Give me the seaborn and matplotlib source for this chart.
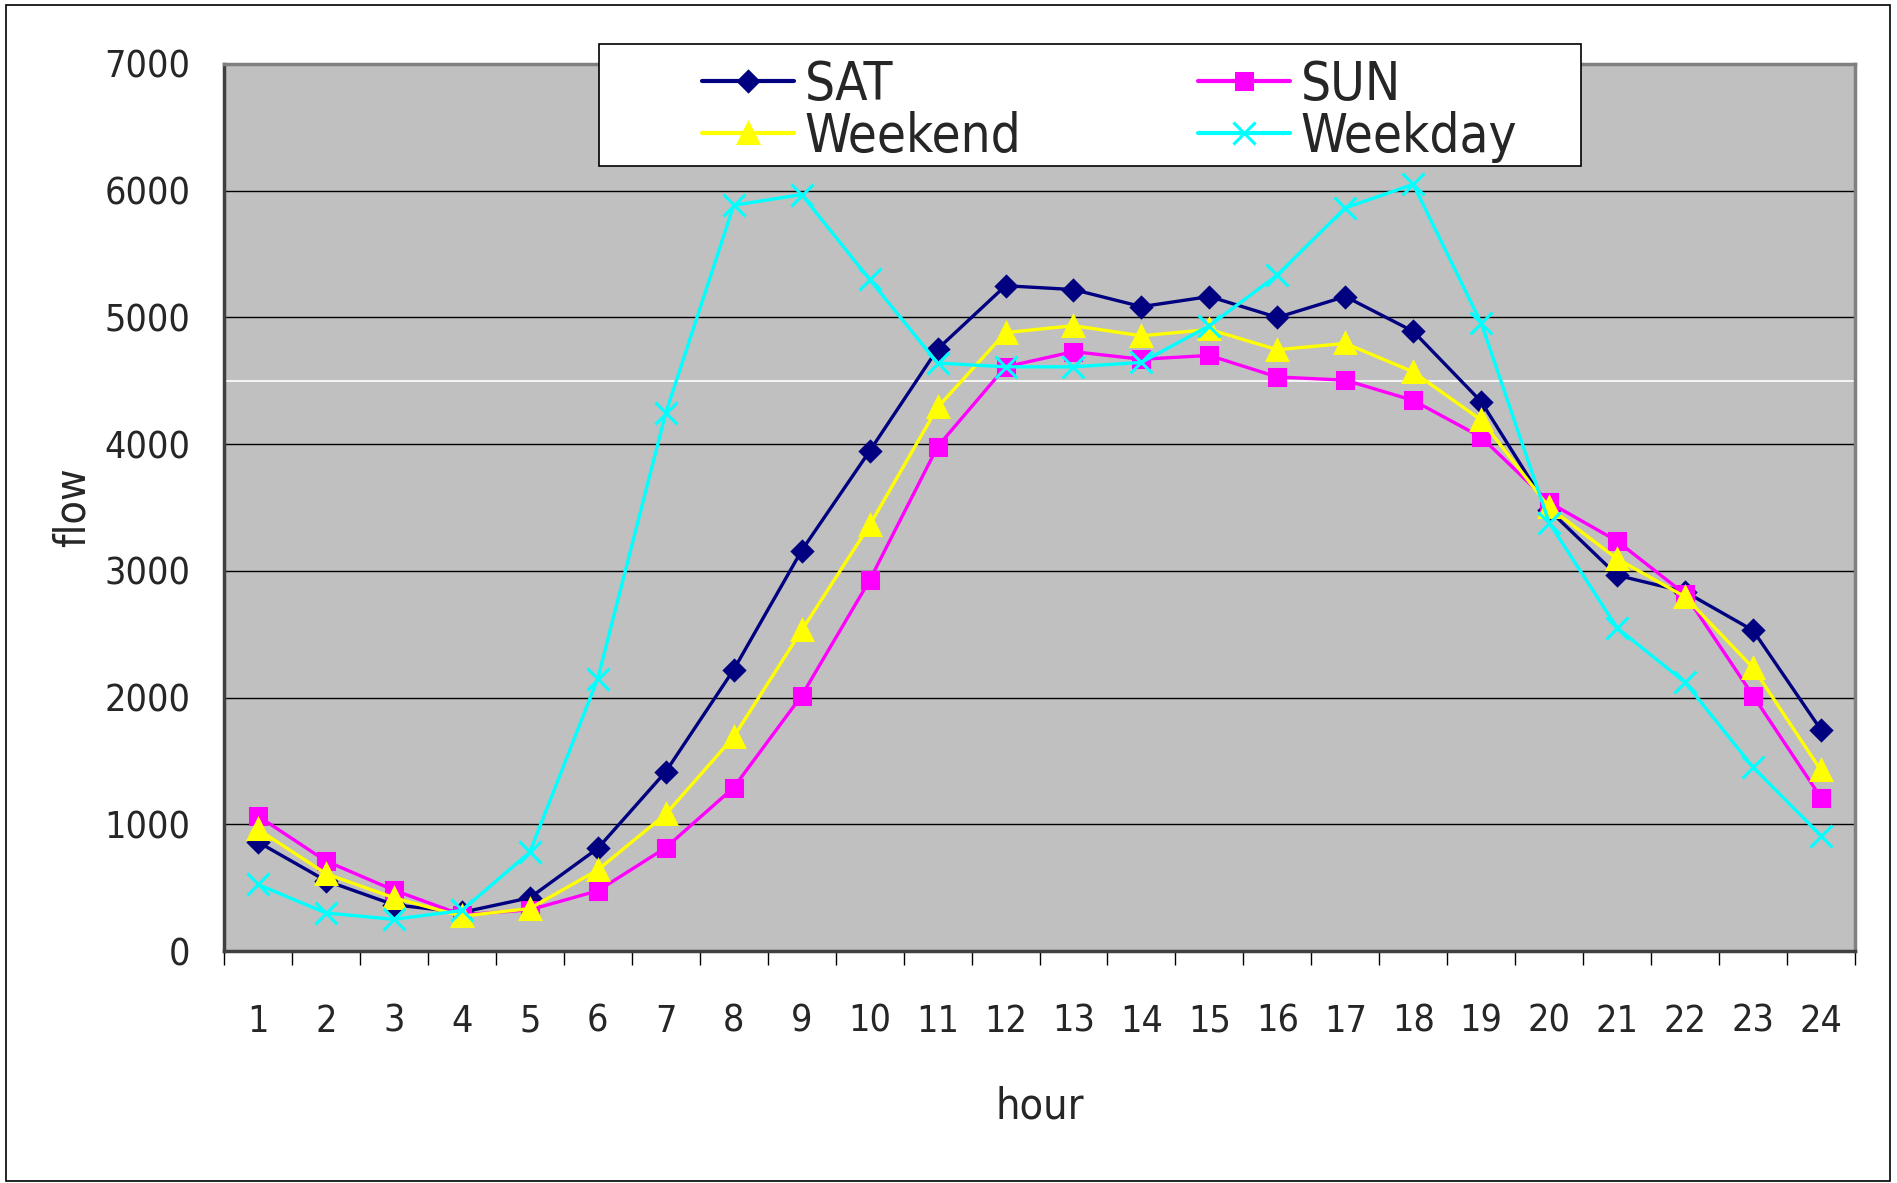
import numpy as np
import seaborn as sns
import matplotlib.pyplot as plt
from matplotlib.patches import Rectangle
from matplotlib.lines import Line2D

# hourly flow values
hours = list(range(1, 25))
sat = [860, 555, 365, 305, 420, 810, 1415, 2220, 3160, 3945, 4750, 5250,
       5220, 5085, 5165, 5000, 5165, 4890, 4335, 3480, 2965, 2835, 2530, 1745]
sun = [1065, 710, 480, 285, 325, 475, 815, 1290, 2015, 2925, 3980, 4610,
       4730, 4670, 4700, 4530, 4505, 4345, 4055, 3540, 3235, 2815, 2015, 1210]
weekend = [960, 610, 420, 275, 335, 640, 1080, 1690, 2530, 3360, 4290, 4880,
           4935, 4855, 4905, 4745, 4795, 4570, 4190, 3500, 3095, 2795, 2235, 1425]
weekday = [525, 300, 250, 320, 780, 2150, 4245, 5885, 5970, 5300, 4640, 4610,
           4610, 4645, 4935, 5335, 5865, 6050, 4955, 3380, 2550, 2120, 1450, 910]
y_ticks = [0, 1000, 2000, 3000, 4000, 5000, 6000, 7000]
ref_line = 4500

sns.set_theme(style='white')
plt.rcParams['font.family'] = ['DejaVu Sans']
plt.rcParams['font.stretch'] = 'condensed'

fig = plt.figure(figsize=(18.97, 11.83), dpi=100)
ax = fig.add_axes([224 / 1897, 1 - 951 / 1183, 1631 / 1897, 887 / 1183])
ax.set_facecolor('#c0c0c0')

# series: (label, values, colour, marker, size)
series = [
    ('SAT', sat, '#000080', 'D', 10),
    ('SUN', sun, '#ff00ff', 's', 12),
    ('Weekend', weekend, '#ffff00', '^', 15),
    ('Weekday', weekday, '#00ffff', 'x', 16),
]
handles = {}
for name, vals, col, mk, ms in series:
    sns.lineplot(x=hours, y=vals, ax=ax, color=col, marker=mk, markersize=ms,
                 markeredgecolor=col, markerfacecolor=col, markeredgewidth=2.2,
                 linewidth=2.4, zorder=3)
    handles[name] = Line2D([], [], color=col, marker=mk, markersize=ms,
                           markeredgecolor=col, markeredgewidth=2.2, linewidth=3)

ax.set_xlim(0.5, 24.5)
ax.set_ylim(0, 7000)
ax.set_yticks(y_ticks)
ax.set_xticks(hours)
ax.set_xticks(np.arange(0.5, 25, 1), minor=True)
ax.grid(False)
for v in y_ticks[1:]:
    ax.axhline(v, color='black', lw=1.0, zorder=1)
ax.axhline(ref_line, color='white', lw=1.2, zorder=1)

ax.tick_params(axis='x', which='major', length=0, pad=38, labelsize=27)
ax.tick_params(axis='x', which='minor', length=10, width=1, color='black',
               direction='out', bottom=True)
ax.tick_params(axis='y', length=0, pad=24, labelsize=27)

for s in ['top', 'right']:
    ax.spines[s].set_color('#808080')
    ax.spines[s].set_linewidth(2.5)
for s in ['left', 'bottom']:
    ax.spines[s].set_color('#404040')
    ax.spines[s].set_linewidth(2.5)

ax.set_xlabel('hour', fontsize=31)
ax.set_ylabel('flow', fontsize=31)
ax.xaxis.set_label_coords(0.5, -0.152)
ax.yaxis.set_label_coords(-0.08, 0.5)

# legend box drawn separately so the entries can sit inside with wide margins
ax.add_patch(Rectangle((0.230, 0.885), 0.602, 0.1376, transform=ax.transAxes,
                       facecolor='white', edgecolor='black', linewidth=1.2,
                       zorder=4, clip_on=False))
order = ['SAT', 'Weekend', 'SUN', 'Weekday']
leg = ax.legend([handles[k] for k in order], order, ncol=2, loc='upper left',
                bbox_to_anchor=(0.293, 1.006, 0.50, 0), mode='expand',
                borderaxespad=0, borderpad=0, fontsize=38, handlelength=1.75,
                handletextpad=0.2, labelspacing=0.0, frameon=False)
leg.set_zorder(5)

# outer border of the chart
fig.patches.append(Rectangle((6 / 1897, 2 / 1183), 1884 / 1897, 1176 / 1183,
                             transform=fig.transFigure, fill=False,
                             edgecolor='black', linewidth=1.2))

fig.savefig('out.png', dpi=100)
